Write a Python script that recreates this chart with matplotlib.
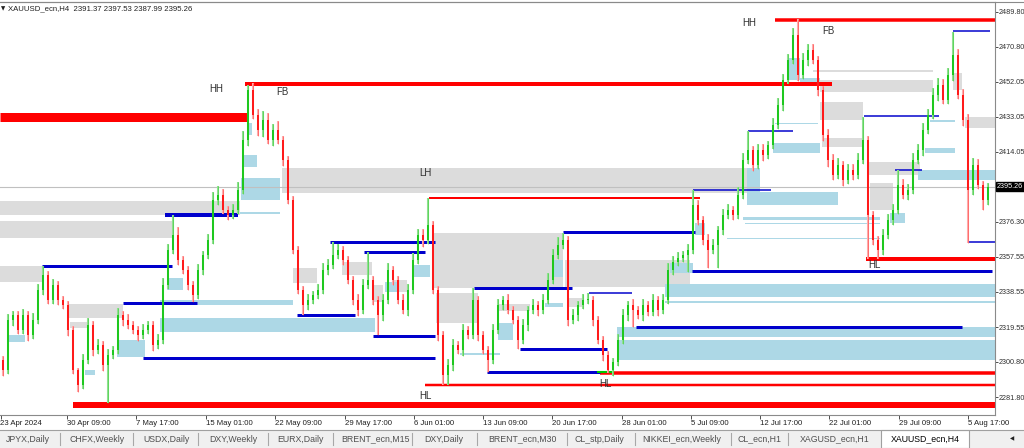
#!/usr/bin/env python

import matplotlib
matplotlib.use("Agg")
import matplotlib.pyplot as plt
import matplotlib.transforms as mtransforms
from matplotlib.patches import Rectangle
from matplotlib.lines import Line2D

plt.rcParams['font.family'] = ['Liberation Sans', 'DejaVu Sans']

# H4 candles (one entry per drawn candle)
first_open = 2301.8
closes = [
    2296.4, 2323.4, 2326.1, 2318.0, 2326.1, 2315.3, 2323.4, 2339.6, 2347.7, 2334.2,
    2342.3, 2334.2, 2331.5, 2318.0, 2296.4, 2288.3, 2301.8, 2320.7, 2307.2, 2309.9,
    2299.1, 2304.5, 2307.2, 2326.1, 2323.4, 2320.7, 2318.0, 2315.3, 2318.0, 2320.7,
    2309.9, 2312.6, 2342.3, 2361.2, 2369.3, 2355.8, 2350.4, 2342.3, 2336.9, 2350.4,
    2358.5, 2366.6, 2388.2, 2390.9, 2382.8, 2380.1, 2382.8, 2393.6, 2420.5, 2447.5,
    2434.0, 2425.9, 2431.3, 2420.5, 2425.9, 2420.5, 2409.7, 2388.2, 2361.2, 2339.6,
    2331.5, 2334.2, 2336.9, 2339.6, 2350.4, 2353.1, 2358.5, 2361.2, 2355.8, 2345.0,
    2334.2, 2328.8, 2342.3, 2345.0, 2334.2, 2326.1, 2334.2, 2350.4, 2345.0, 2334.2,
    2328.8, 2339.6, 2355.8, 2369.3, 2366.6, 2374.7, 2339.6, 2315.3, 2293.7, 2299.1,
    2309.9, 2307.2, 2318.0, 2315.3, 2334.2, 2315.3, 2307.2, 2301.8, 2318.0, 2331.5,
    2334.2, 2328.8, 2323.4, 2312.6, 2320.7, 2328.8, 2331.5, 2328.8, 2334.2, 2345.0,
    2358.5, 2363.9, 2366.6, 2323.4, 2326.1, 2331.5, 2334.2, 2334.2, 2323.4, 2312.6,
    2304.5, 2296.4, 2300.7, 2312.6, 2326.1, 2331.5, 2328.8, 2326.1, 2331.5, 2327.7,
    2334.2, 2328.8, 2334.2, 2350.4, 2354.7, 2356.9, 2358.5, 2361.2, 2385.4, 2377.4,
    2366.6, 2361.2, 2363.9, 2372.0, 2380.1, 2382.8, 2380.1, 2390.9, 2409.7, 2415.1,
    2407.0, 2415.1, 2412.4, 2417.8, 2428.6, 2439.4, 2452.9, 2463.7, 2477.2, 2455.6,
    2463.7, 2469.1, 2463.7, 2447.5, 2423.2, 2409.7, 2401.7, 2407.0, 2398.9, 2404.4,
    2401.7, 2409.7, 2420.5, 2380.1, 2366.6, 2361.2, 2369.3, 2377.4, 2382.8, 2396.3,
    2390.9, 2393.6, 2409.7, 2415.1, 2425.9, 2434.0, 2444.8, 2450.2, 2442.1, 2455.6,
    2466.4, 2444.8, 2431.3, 2393.6, 2407.0, 2396.3, 2388.2, 2395.3,
]
up_wick = [
    2, 3, 2, 2, 3, 2, 4, 3, 4.8, 2,
    3, 2, 2, 2, 2, 1, 3, 4, 2, 3,
    2, 3, 2, 4, 2, 3, 2, 2, 3, 2,
    2, 3, 4, 3, 10.8, 4, 2, 2, 2, 3,
    2, 3, 4, 5, 3, 2, 3, 4, 5, 2.7,
    4, 3, 5, 4, 3, 5, 2, 2, 2, 2,
    2, 3, 2, 3, 4, 3, 7.0, 3, 2, 2,
    2, 3, 3, 15.1, 2, 2, 3, 4, 2, 2,
    3, 3, 4, 3, 3, 14.5, 2, 2, 2, 3,
    3, 2, 3, 2, 6.5, 2, 2, 2, 3, 3,
    2, 3, 2, 2, 3, 2, 3, 2, 3, 4,
    3, 4, 3.7, 2, 3, 2, 3, 3.7, 2, 2,
    2, 2, 2, 3, 3, 2, 3, 2, 3, 2,
    3, 2, 3, 4, 3, 3, 2, 3, 8.2, 3,
    2, 3, 3, 2, 3, 3, 2, 4, 4, 10.5,
    2, 3, 3, 2, 4, 4, 3, 3, 4, 8.4,
    4, 3, 3, 2, 2, 3, 3, 4, 2, 3,
    3, 4, 12.4, 2, 2, 2, 3, 3, 3, 8.1,
    3, 3, 4, 3, 4, 3, 4, 4, 3, 4,
    12.4, 3, 3, 3, 4, 3, 2, 2,
]
dn_wick = [
    3, 2, 3, 2, 2, 3, 2, 2, 3, 2,
    2, 3, 2, 3, 2, 3.8, 2, 2, 3, 2,
    3, 20.5, 2, 2, 3, 2, 2, 3, 2, 2,
    3, 2, 2, 2, 2, 3, 2, 3, 4, 2,
    3, 2, 2, 3, 2, 3, 2, 2, 2, 3,
    2, 3, 4, 2, 3, 2, 3, 2, 2, 2,
    5.4, 3, 2, 2, 2, 3, 2, 2, 3, 2,
    3, 3.2, 2, 2, 3, 10.8, 3, 2, 3, 2,
    2, 3, 2, 2, 4, 2, 2, 3, 5.4, 5.4,
    3, 2, 3, 2, 2, 3, 2, 6.5, 2, 2,
    3, 2, 2, 4.9, 2, 3, 2, 3, 2, 2,
    2, 2, 2, 3, 2, 3, 2, 2, 3, 2,
    3, 1.6, 3, 2, 2, 3, 9.2, 2, 3, 2,
    2, 3, 2, 2, 3, 2, 2, 9.2, 2, 3,
    3, 9.7, 2, 12.4, 3, 2, 3, 2, 2, 2,
    3, 2, 3, 2, 2, 2, 3, 2, 2, 3,
    2, 3, 2, 3, 3, 4, 3, 2, 3, 2,
    3, 2, 2, 23.8, 3, 4.9, 3, 2, 3, 2,
    2, 3, 2, 2, 3, 2, 2, 3, 2, 2,
    3, 2, 3, 28.7, 3, 2, 5.4, 3,
]
last_price = 2395.26

# supply / demand boxes: (from bar, to bar, low price, high price)
grey_zones = [
    (-0.6, 47.4, 2380.1, 2387.6), (-0.6, 33.8, 2367.6, 2376.8),
    (-0.6, 7.8, 2343.9, 2352.5), (12.8, 24.0, 2324.5, 2332.0),
    (13.4, 17.0, 2319.1, 2322.3), (55.8, 149.0, 2391.9, 2405.4),
    (85.8, 112.0, 2340.7, 2370.3), (86.6, 95.0, 2321.8, 2337.9),
    (112.4, 137.4, 2341.2, 2355.8), (163.4, 186.0, 2446.5, 2452.9),
    (162.0, 186.0, 2457.2, 2458.3), (163.4, 172.0, 2431.3, 2441.0),
    (163.8, 172.0, 2416.8, 2421.6), (173.0, 183.4, 2401.7, 2408.7),
    (173.4, 178.0, 2382.8, 2397.3), (192.4, 198.4, 2427.0, 2432.9),
    (190.0, 191.8, 2447.5, 2456.7), (58.0, 62.8, 2343.4, 2351.5),
    (67.8, 73.8, 2347.7, 2354.7), (78.0, 80.8, 2338.5, 2345.0),
    (73.8, 76.0, 2333.1, 2342.3), (98.8, 105.4, 2328.2, 2332.0),
    (112.8, 116.0, 2330.4, 2335.3),
]
blue_zones = [
    (0.8, 4.4, 2311.5, 2315.3), (22.8, 28.4, 2303.4, 2312.6),
    (16.4, 18.4, 2293.7, 2296.4), (32.8, 36.0, 2339.6, 2346.1),
    (31.4, 58.0, 2331.5, 2334.2), (31.4, 74.4, 2316.9, 2324.5),
    (48.0, 50.8, 2406.0, 2412.4), (47.6, 55.4, 2388.2, 2400.0),
    (47.4, 55.4, 2380.6, 2381.7), (48.8, 49.8, 2423.2, 2429.7),
    (81.8, 85.4, 2346.6, 2353.1), (76.4, 78.8, 2338.5, 2343.9),
    (91.4, 99.4, 2304.6, 2305.6), (99.0, 102.0, 2312.6, 2321.8),
    (110.0, 112.0, 2346.6, 2355.8), (108.4, 112.0, 2330.4, 2332.6),
    (122.8, 198.4, 2314.2, 2319.6), (122.8, 198.4, 2301.8, 2312.6),
    (132.4, 198.4, 2335.8, 2342.8), (132.4, 198.4, 2332.6, 2333.7),
    (133.4, 138.0, 2348.8, 2354.2), (138.4, 140.4, 2369.3, 2375.8),
    (148.8, 151.4, 2392.5, 2405.4), (148.8, 167.0, 2385.5, 2392.5),
    (148.0, 175.4, 2377.4, 2379.0), (148.4, 175.4, 2375.2, 2375.8),
    (144.8, 175.4, 2367.1, 2367.7), (154.0, 163.4, 2413.5, 2418.9),
    (154.4, 163.0, 2429.1, 2429.7), (157.0, 159.4, 2452.9, 2464.8),
    (159.4, 163.4, 2451.8, 2454.0), (184.4, 190.4, 2413.5, 2416.2),
    (183.0, 198.4, 2398.9, 2404.4), (185.4, 190.4, 2430.3, 2431.3),
    (177.4, 180.4, 2375.8, 2381.1),
]

# structure levels: (from bar, to bar, price)
red_levels = [
    (-0.6, 48.8, 2432.7), (48.4, 165.8, 2450.5), (154.4, 198.4, 2485.3),
    (85.2, 139.4, 2389.2), (14.0, 198.4, 2277.5), (84.4, 198.4, 2288.3),
    (119.4, 198.4, 2295.0), (172.6, 198.4, 2356.3),
]
red_widths = [9, 4, 3.5, 2, 6, 2.5, 3.5, 4]
blue_levels = [
    (7.8, 33.8, 2352.5), (32.4, 47.0, 2380.3), (24.0, 38.8, 2332.3),
    (28.0, 86.4, 2302.6), (58.8, 70.4, 2326.1), (65.4, 86.4, 2365.5),
    (72.2, 84.4, 2360.1), (74.0, 86.4, 2315.0), (94.2, 113.8, 2340.7),
    (112.0, 138.4, 2370.6), (103.4, 120.8, 2307.7), (96.8, 119.4, 2295.3),
    (117.2, 125.8, 2337.9), (126.6, 191.8, 2319.6), (137.8, 197.8, 2349.6),
    (138.0, 153.6, 2393.6), (149.0, 158.0, 2425.4), (172.2, 187.2, 2433.5),
    (178.4, 183.8, 2404.4), (190.0, 197.4, 2479.1), (192.8, 198.4, 2365.2),
]
blue_widths = [3, 4, 3, 3, 3, 3, 3, 3, 3, 3, 3, 3, 1.5, 3, 3, 1.5, 1.5, 1.5, 1.5, 1.5, 1.5]

# swing labels
swing_text = ["HH", "FB", "LH", "HL", "HL", "HL", "HH", "FB"]
swing_bar = [42.6, 55.8, 84.4, 84.4, 120.4, 174.2, 149.2, 165.0]
swing_price = [2448.1, 2446.5, 2402.7, 2282.4, 2288.9, 2353.1, 2483.7, 2479.4]

# axes
price_ticks = [2489.80, 2470.80, 2452.05, 2433.05, 2414.05, 2376.30,
               2357.55, 2338.55, 2319.55, 2300.80, 2281.80]
date_labels = ["23 Apr 2024", "30 Apr 09:00", "7 May 17:00", "15 May 01:00",
               "22 May 09:00", "29 May 17:00", "6 Jun 01:00", "13 Jun 09:00",
               "20 Jun 17:00", "28 Jun 01:00", "5 Jul 09:00", "12 Jul 17:00",
               "22 Jul 01:00", "29 Jul 09:00", "5 Aug 17:00"]
date_bars = [-0.4, 12.8, 26.6, 40.6, 54.4, 68.4, 82.2, 96.0, 109.8, 123.8,
             137.6, 151.4, 165.2, 179.2, 193.0]

# terminal tabs
tab_names = ["JPYX,Daily", "CHFX,Weekly", "USDX,Daily", "DXY,Weekly", "EURX,Daily",
             "BRENT_ecn,M15", "DXY,Daily", "BRENT_ecn,M30", "CL_stp,Daily",
             "NIKKEI_ecn,Weekly", "CL_ecn,H1", "XAGUSD_ecn,H1", "XAUUSD_ecn,H4"]
tab_centers = [28, 97, 166, 233, 300, 376, 444, 522, 599, 682, 760, 835, 925]
tab_seps = [60, 133, 198, 268, 333, 412, 477, 567, 635, 731, 788]

W, H = 1024.0, 448.0


#
#   candles
#
def draw_candles(ax):
    opens = [first_open] + closes[:-1]
    xs = list(range(len(closes)))
    highs = [max(o, c) + u for o, c, u in zip(opens, closes, up_wick)]
    lows = [min(o, c) - d for o, c, d in zip(opens, closes, dn_wick)]
    up = [c >= o for o, c in zip(opens, closes)]
    wick_col = ['#8fe08f' if u else '#ffabab' for u in up]
    body_col = ['#1ec81e' if u else '#ff1a1a' for u in up]
    heights = []
    for o, c in zip(opens, closes):
        h = c - o
        if abs(h) < 0.5:
            h = 0.5
        heights.append(h)
    ax.vlines(xs, lows, highs, colors=wick_col, lw=1.5, zorder=3)
    ax.vlines(xs, lows, highs, colors=body_col, lw=0.5, zorder=3, alpha=0.6)
    ax.bar(xs, heights, bottom=opens, width=0.5, color=body_col, lw=0, zorder=4)


#
#   boxes and levels
#
def draw_zones(ax):
    for x0, x1, lo, hi in grey_zones:
        ax.fill_between([x0, x1], lo, hi, color='#dcdcdc', lw=0, zorder=1)
    for x0, x1, lo, hi in blue_zones:
        ax.fill_between([x0, x1], lo, hi, color='#add8e6', lw=0, zorder=1.2)
    ax.axhline(last_price, color='#c0c0c0', lw=0.8, zorder=1.5)
    for (x0, x1, p), w in zip(red_levels, red_widths):
        ax.hlines(p, x0, x1, color='#ff0000', lw=w * 0.72, zorder=2)
    for (x0, x1, p), w in zip(blue_levels, blue_widths):
        ax.hlines(p, x0, x1, color='#0000cc', lw=w * 0.72, zorder=2)
    ax.hlines(2295.3, 118.8, 121.8, color='#00c800', lw=1.5, zorder=2.1)
    for s, b, p in zip(swing_text, swing_bar, swing_price):
        ax.text(b, p, s, fontsize=7, color='#303030', ha='center', va='center', zorder=5)


#
#   axes decoration
#
def draw_axes(fig, ax):
    ax.set_xlim(-0.6, 198.4)
    ax.set_ylim(2272.1, 2495.0)
    ax.spines['left'].set_visible(False)
    for side in ['top', 'right', 'bottom']:
        ax.spines[side].set_color('#8a8a8a')
        ax.spines[side].set_linewidth(0.8)
    ax.yaxis.tick_right()
    ax.set_yticks(price_ticks + [last_price])
    ax.set_yticklabels(["%.2f" % p for p in price_ticks] + [""])
    ax.tick_params(axis='y', direction='out', length=2, width=0.6, pad=0.8,
                   labelsize=5.2, colors='#303030')
    ax.set_xticks(date_bars)
    ax.set_xticklabels([""] * len(date_bars))
    ax.tick_params(axis='x', direction='out', length=3, width=0.6, colors='#303030')
    # date labels start just right of the tick
    trans = mtransforms.offset_copy(ax.get_xaxis_transform(), fig=fig, x=0, y=-8.5, units='dots')
    for b, s in zip(date_bars, date_labels):
        xb = b if b > 0 else -0.5
        ax.text(xb, 0, s, transform=trans, fontsize=5.6, ha='left', va='center',
                color='#202020', clip_on=False)
    # last price box
    ax.text(1.0 + 1.5 / 995, last_price, "%.2f" % last_price, transform=ax.get_yaxis_transform(),
            fontsize=5.2, color='white', ha='left', va='center', clip_on=False,
            bbox=dict(boxstyle='square,pad=0.12', fc='black', ec='black'))
    # window border and header
    fig.add_artist(Line2D([0, 1], [1 - 2.0 / H, 1 - 2.0 / H], transform=fig.transFigure,
                          color='#8a8a8a', lw=0.8))
    fig.text(1.0 / W, 1 - 9.0 / H, u"\u25bc", fontsize=4, color='#202020', va='center',
             family=['DejaVu Sans'])
    fig.text(8.0 / W, 1 - 9.0 / H, "XAUUSD_ecn,H4  2391.37 2397.53 2387.99 2395.26",
             fontsize=5.6, color='#202020', va='center')


#
#   tab bar
#
def draw_tabs(fig):
    top = 18.0 / H
    fig.add_artist(Rectangle((0, 0), 1, top, transform=fig.transFigure,
                             fc='#f0f0f0', ec='none', zorder=0))
    fig.add_artist(Line2D([0, 1], [top, top], transform=fig.transFigure,
                          color='#a0a0a0', lw=0.8))
    fig.add_artist(Rectangle((881.0 / W, 0), 88.0 / W, top, transform=fig.transFigure,
                             fc='white', ec='#a0a0a0', lw=0.8, zorder=1))
    for s in tab_seps:
        fig.add_artist(Line2D([s / W, s / W], [3.0 / H, 15.0 / H], transform=fig.transFigure,
                              color='#a8a8a8', lw=0.8))
    for name, c in zip(tab_names, tab_centers):
        col = '#000000' if name == "XAUUSD_ecn,H4" else '#505050'
        fig.text(c / W, 9.0 / H, name, fontsize=6.3, color=col, ha='center', va='center',
                 zorder=2)
    fig.text(1012.0 / W, 9.0 / H, u"\u25c0", fontsize=4, color='#202020', ha='center',
             va='center', family=['DejaVu Sans'])


#
#   main
#
if __name__ == "__main__":
    fig = plt.figure(figsize=(W / 100, H / 100), dpi=100)
    fig.patch.set_facecolor('white')
    ax = fig.add_axes([0, 33.0 / H, 995.0 / W, 413.0 / H])
    draw_zones(ax)
    draw_candles(ax)
    draw_axes(fig, ax)
    draw_tabs(fig)
    fig.savefig("out.png", dpi=100)
    plt.close(fig)
